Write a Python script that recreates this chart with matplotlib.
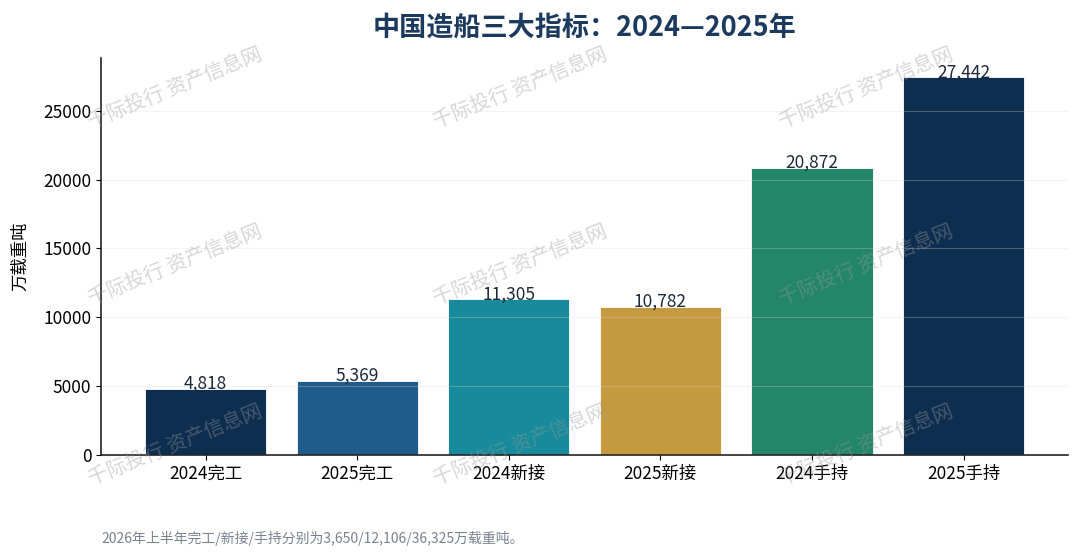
import matplotlib
matplotlib.use('Agg')
import matplotlib.pyplot as plt

plt.rcParams['font.family'] = ['Noto Sans CJK SC', 'DejaVu Sans']

# data
categories = ['2024完工', '2025完工', '2024新接', '2025新接', '2024手持', '2025手持']
values = [4818, 5369, 11305, 10782, 20872, 27442]
bar_colors = ['#0e2e50', '#1f5c8b', '#178b9b', '#c59a3e', '#238669', '#0e2e50']
title = '中国造船三大指标：2024—2025年'
ylabel = '万载重吨'
footnote = '2026年上半年完工/新接/手持分别为3,650/12,106/36,325万载重吨。'
watermark = '千际投行 资产信息网'

fig = plt.figure(figsize=(10.8, 5.6), dpi=100)
ax = fig.add_axes([0.0935, 0.1875, 0.8955, 0.7085])

x = range(len(categories))
bars = ax.bar(x, values, width=0.8, color=bar_colors, edgecolor='white', linewidth=0.6)
for xi, v in zip(x, values):
    ax.text(xi, v, f'{v:,}', ha='center', va='baseline', fontsize=12.5, color='#1e2a38')

ax.set_xticks(list(x))
ax.set_xticklabels(categories, fontsize=12.5)
ax.tick_params(axis='y', labelsize=12.5)
ax.set_ylim(0, max(values) * 1.05)
ax.set_ylabel(ylabel, fontsize=12.5, labelpad=10)
ax.set_title(title, fontsize=19.5, fontweight='bold', color='#1c3a5e', pad=16)

ax.grid(axis='y', color='#d8d8d8', alpha=0.3, linewidth=0.8)
ax.set_axisbelow(False)
ax.spines['top'].set_visible(False)
ax.spines['right'].set_visible(False)
for s in ['left', 'bottom']:
    ax.spines[s].set_color('#222222')
    ax.spines[s].set_linewidth(1.2)

fig.text(0.094, 1 - 538 / 560, footnote, fontsize=10, color='#7a8290', va='center')

# watermark grid
for cx in [175, 520, 866]:
    for cy in [88, 265, 445]:
        fig.text(cx / 1080, 1 - cy / 560, watermark, fontsize=14.5, color='#9a9a9a',
                 alpha=0.4, rotation=22, ha='center', va='center', zorder=10)

fig.savefig('out.png', dpi=100)
